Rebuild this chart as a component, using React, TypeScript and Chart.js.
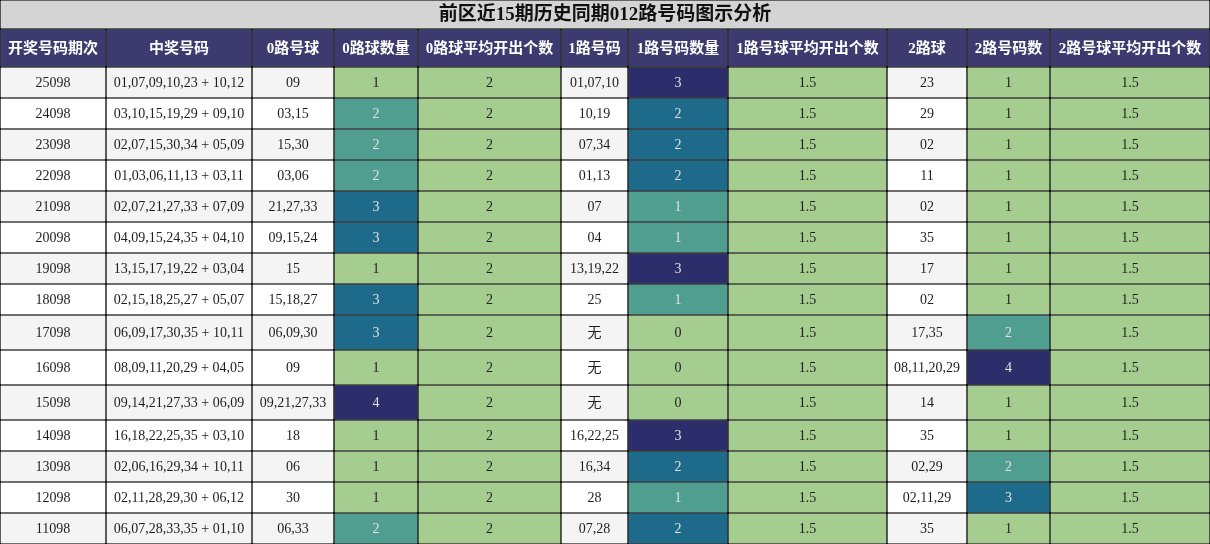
import React, { useEffect, useRef } from 'react';
import { Chart, registerables } from 'chart.js';

Chart.register(...registerables);

const title = '前区近15期历史同期012路号码图示分析';
const headers = ['开奖号码期次', '中奖号码', '0路号球', '0路球数量', '0路球平均开出个数', '1路号码', '1路号码数量', '1路号球平均开出个数', '2路球', '2路号码数', '2路号球平均开出个数'];

const periods = ['25098', '24098', '23098', '22098', '21098', '20098', '19098', '18098', '17098', '16098', '15098', '14098', '13098', '12098', '11098'];
const winningNumbers = [
  '01,07,09,10,23 + 10,12', '03,10,15,19,29 + 09,10', '02,07,15,30,34 + 05,09', '01,03,06,11,13 + 03,11',
  '02,07,21,27,33 + 07,09', '04,09,15,24,35 + 04,10', '13,15,17,19,22 + 03,04', '02,15,18,25,27 + 05,07',
  '06,09,17,30,35 + 10,11', '08,09,11,20,29 + 04,05', '09,14,21,27,33 + 06,09', '16,18,22,25,35 + 03,10',
  '02,06,16,29,34 + 10,11', '02,11,28,29,30 + 06,12', '06,07,28,33,35 + 01,10',
];
const road0Balls = ['09', '03,15', '15,30', '03,06', '21,27,33', '09,15,24', '15', '15,18,27', '06,09,30', '09', '09,21,27,33', '18', '06', '30', '06,33'];
const road0Counts = [1, 2, 2, 2, 3, 3, 1, 3, 3, 1, 4, 1, 1, 1, 2];
const road0Avg = [2, 2, 2, 2, 2, 2, 2, 2, 2, 2, 2, 2, 2, 2, 2];
const road1Balls = ['01,07,10', '10,19', '07,34', '01,13', '07', '04', '13,19,22', '25', '无', '无', '无', '16,22,25', '16,34', '28', '07,28'];
const road1Counts = [3, 2, 2, 2, 1, 1, 3, 1, 0, 0, 0, 3, 2, 1, 2];
const road1Avg = [1.5, 1.5, 1.5, 1.5, 1.5, 1.5, 1.5, 1.5, 1.5, 1.5, 1.5, 1.5, 1.5, 1.5, 1.5];
const road2Balls = ['23', '29', '02', '11', '02', '35', '17', '02', '17,35', '08,11,20,29', '14', '35', '02,29', '02,11,29', '35'];
const road2Counts = [1, 1, 1, 1, 1, 1, 1, 1, 2, 4, 1, 1, 2, 3, 1];
const road2Avg = [1.5, 1.5, 1.5, 1.5, 1.5, 1.5, 1.5, 1.5, 1.5, 1.5, 1.5, 1.5, 1.5, 1.5, 1.5];

// layout (pixels == scale units)
const colWidths = [106, 146, 82, 84, 143, 67, 100, 159, 80, 83, 160];
const titleHeight = 29;
const headerHeight = 38;
const rowHeights = [31, 31, 31, 31, 31, 31, 31, 31, 35, 35, 35, 31, 31, 31, 31];

const heatColors = ['#a5cd8f', '#4f9e8f', '#1e6a8a', '#2c2e6c'];
const stripe = ['#f4f4f4', '#ffffff'];
const darkText = '#1e1e1e';
const lightText = '#e2e2e2';
const cellFont = "14px 'Liberation Serif', 'Noto Sans CJK SC', serif";
const headerFont = "bold 15px 'Liberation Serif', 'Noto Sans CJK SC', serif";
const titleFont = "bold 19px 'Liberation Serif', 'Noto Sans CJK SC', serif";

const columns: (string | number)[][] = [periods, winningNumbers, road0Balls, road0Counts, road0Avg, road1Balls, road1Counts, road1Avg, road2Balls, road2Counts, road2Avg];

const heatLevel = (col: (string | number)[], v: number) => {
  const nums = col.map(Number);
  const min = Math.min(...nums);
  const max = Math.max(...nums);
  if (max === min) return 0;
  return Math.round(((v - min) / (max - min)) * (heatColors.length - 1));
};

const cellTextPlugin = {
  id: 'cellText',
  afterDatasetsDraw(chart: any) {
    const { ctx } = chart;
    chart.data.datasets.forEach((ds: any, di: number) => {
      const meta = chart.getDatasetMeta(di);
      meta.data.forEach((el: any, i: number) => {
        const { x, y, base } = el.getProps(['x', 'y', 'base'], true);
        ctx.save();
        ctx.font = ds.cellFont;
        ctx.fillStyle = ds.cellTextColor[i];
        ctx.textAlign = 'center';
        ctx.textBaseline = 'middle';
        ctx.fillText(ds.cellText[i], (x + base) / 2, y + 1);
        ctx.restore();
      });
    });
  },
};

const App: React.FC = () => {
  const canvasRef = useRef<HTMLCanvasElement>(null);

  useEffect(() => {
    document.body.style.margin = '0';
    const ctx = canvasRef.current?.getContext('2d');
    if (!ctx) return;

    const edges = [0];
    colWidths.forEach(w => edges.push(edges[edges.length - 1] + w));
    const totalW = edges[edges.length - 1];
    const totalH = titleHeight + headerHeight + rowHeights.reduce((a, b) => a + b, 0);

    const base = {
      grouped: false,
      borderColor: '#000000',
      borderWidth: 0.8,
      borderSkipped: false,
      inflateAmount: 0,
    };

    const datasets: any[] = [];
    datasets.push({
      ...base,
      label: 'title',
      data: [{ x: [0, totalW], y: titleHeight / 2 }],
      barThickness: titleHeight,
      backgroundColor: ['#d4d4d4'],
      cellText: [title],
      cellTextColor: ['#111111'],
      cellFont: titleFont,
    });
    const headerY = titleHeight + headerHeight / 2;
    datasets.push({
      ...base,
      label: 'header',
      data: headers.map((_, c) => ({ x: [edges[c], edges[c + 1]], y: headerY })),
      barThickness: headerHeight,
      backgroundColor: headers.map(() => '#3c3a6e'),
      cellText: headers,
      cellTextColor: headers.map(() => '#ffffff'),
      cellFont: headerFont,
    });

    let top = titleHeight + headerHeight;
    periods.forEach((_, r) => {
      const h = rowHeights[r];
      const bg: string[] = [];
      const fg: string[] = [];
      columns.forEach(col => {
        const v = col[r];
        if (typeof v === 'number') {
          const lvl = heatLevel(col, v);
          bg.push(heatColors[lvl]);
          fg.push(lvl > 0 ? lightText : darkText);
        } else {
          bg.push(stripe[r % 2]);
          fg.push(darkText);
        }
      });
      datasets.push({
        ...base,
        label: periods[r],
        data: columns.map((_, c) => ({ x: [edges[c], edges[c + 1]], y: top + h / 2 })),
        barThickness: h,
        backgroundColor: bg,
        cellText: columns.map(col => String(col[r])),
        cellTextColor: fg,
        cellFont,
      });
      top += h;
    });

    const chart = new Chart(ctx, {
      type: 'bar',
      data: { datasets },
      options: {
        indexAxis: 'y',
        responsive: false,
        animation: false,
        events: [],
        layout: { padding: 0 },
        scales: {
          x: { type: 'linear', min: 0, max: totalW, offset: false, display: false },
          y: { type: 'linear', min: 0, max: totalH, reverse: true, offset: false, display: false },
        },
        plugins: {
          legend: { display: false },
          tooltip: { enabled: false },
          title: { display: false },
        },
      } as any,
      plugins: [cellTextPlugin],
    });

    return () => {
      chart.destroy();
    };
  }, []);

  return (
    <div style={{ width: 1210, height: 544, background: '#ffffff' }}>
      <canvas ref={canvasRef} width={1210} height={544} role="img" aria-label={title}></canvas>
    </div>
  );
};

export default App;
